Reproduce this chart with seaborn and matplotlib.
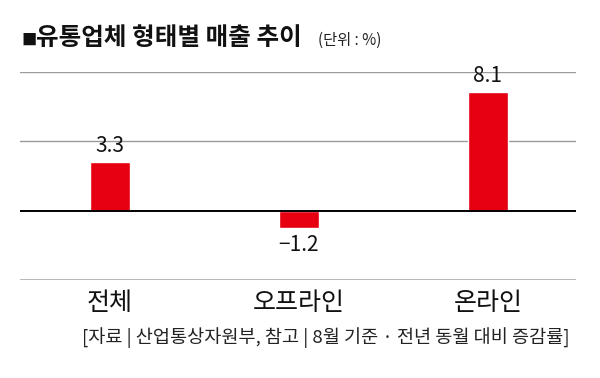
import pandas as pd
import seaborn as sns
import matplotlib.pyplot as plt

categories = ["전체", "오프라인", "온라인"]
values = [3.3, -1.2, 8.1]
value_labels = ["3.3", "\u22121.2", "8.1"]

title = "유통업체 형태별 매출 추이"
unit = "(단위 : %)"
source = "[자료 | 산업통상자원부, 참고 | 8월 기준 · 전년 동월 대비 증감률]"

sns.set_theme(style="white")
plt.rcParams["font.family"] = ["Noto Sans CJK KR", "DejaVu Sans"]

df = pd.DataFrame({"cat": categories, "val": values})

fig = plt.figure(figsize=(6, 3.78), dpi=100)
ax = fig.add_axes([20 / 600, 1 - 280 / 378, 556 / 600, 208 / 378])

sns.barplot(data=df, x="cat", y="val", ax=ax, color="#E60012", width=0.21,
            saturation=1, zorder=3)

ax.set_xlim(-0.476, 2.466)
ax.set_ylim(-4.75, 9.5)
for y in [4.75, 9.5]:
    ax.axhline(y, color="#9a9a9a", lw=1.0, zorder=1)
ax.axhline(-4.75, color="#b0b0b0", lw=2.0, zorder=1)
ax.axhline(0, color="black", lw=1.4, zorder=4)

for i, (v, lab) in enumerate(zip(values, value_labels)):
    if v >= 0:
        ax.text(i, v + 0.4, lab, ha="center", va="bottom", fontsize=15, color="#111111")
    else:
        ax.text(i, v - 0.4, lab, ha="center", va="top", fontsize=15, color="#111111")

for s in ax.spines.values():
    s.set_visible(False)
ax.set_yticks([])
ax.set_xlabel("")
ax.set_ylabel("")
ax.tick_params(axis="x", length=0, pad=7, labelsize=18, labelcolor="#111111")

fig.text(21 / 600, 1 - 40 / 378, "■", fontsize=11, va="center", ha="left", color="#111111")
fig.text(36 / 600, 1 - 38 / 378, title, fontsize=17.7, fontweight="bold", va="center", ha="left", color="#111111")
fig.text(318 / 600, 1 - 40 / 378, unit, fontsize=11, va="center", ha="left", color="#222222")
fig.text(570 / 600, 1 - 338 / 378, source, fontsize=13.4, va="center", ha="right", color="#222222")

fig.savefig("out.png", dpi=100)
